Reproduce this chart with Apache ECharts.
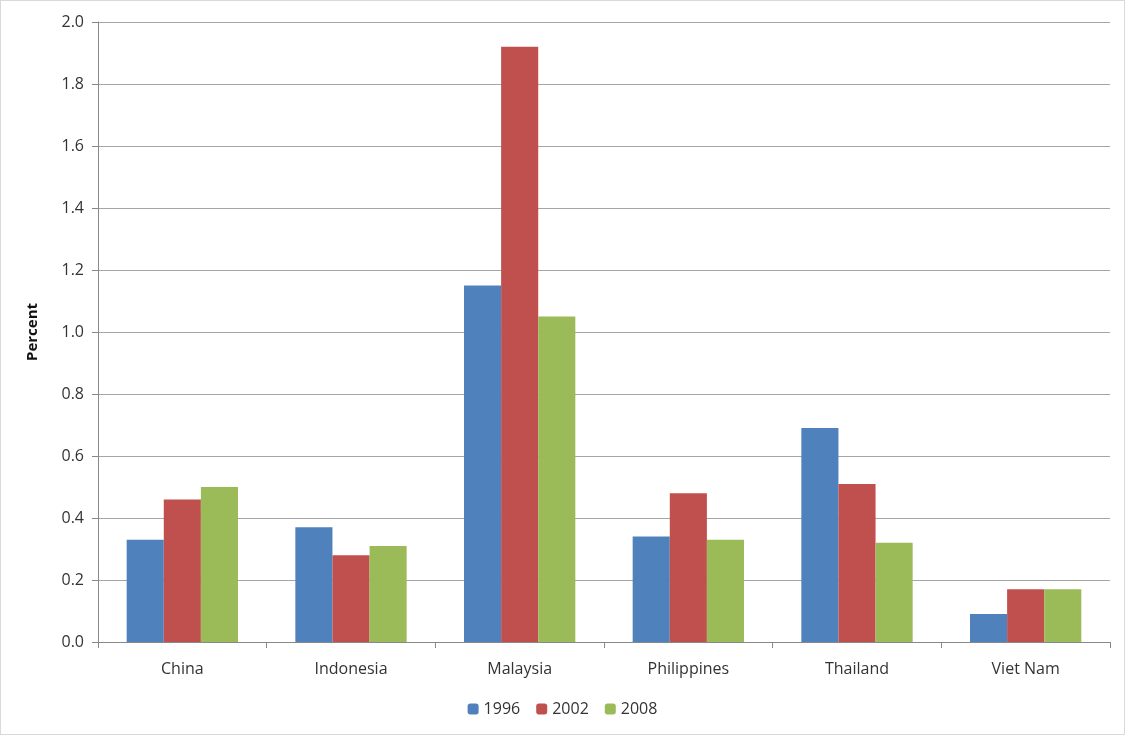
<!DOCTYPE html>
<html>
<head>
<meta charset="utf-8">
<script src="https://cdn.jsdelivr.net/npm/echarts@6/dist/echarts.min.js"></script>
<style>
html,body{margin:0;padding:0;background:#fff;}
#chart{width:1123px;height:733px;border:1px solid #d9d9d9;}
</style>
</head>
<body>
<div id="chart"></div>
<script>
var categories = ['China', 'Indonesia', 'Malaysia', 'Philippines', 'Thailand', 'Viet Nam'];
var s1996 = [0.33, 0.37, 1.15, 0.34, 0.69, 0.09];
var s2002 = [0.46, 0.28, 1.92, 0.48, 0.51, 0.17];
var s2008 = [0.50, 0.31, 1.05, 0.33, 0.32, 0.17];

var chart = echarts.init(document.getElementById('chart'));
var font = '"Open Sans", "Liberation Sans", sans-serif';
chart.setOption({
    animation: false,
    textStyle: {fontFamily: font},
    grid: {left: 97, right: 14, top: 21, bottom: 92},
    legend: {
        bottom: 12, left: 'center', itemWidth: 11, itemHeight: 11, itemGap: 16,
        textStyle: {fontSize: 16, color: '#333', fontFamily: font},
        data: ['1996', '2002', '2008']
    },
    xAxis: {
        type: 'category', data: categories,
        axisLine: {lineStyle: {color: '#888'}},
        axisTick: {show: true, alignWithLabel: false, length: 6, lineStyle: {color: '#888'}},
        axisLabel: {fontSize: 16, color: '#333', margin: 19, fontFamily: font}
    },
    yAxis: {
        type: 'value', min: 0, max: 2.0, interval: 0.2,
        name: 'Percent', nameLocation: 'middle', nameGap: 58,
        nameTextStyle: {fontSize: 15, fontWeight: 'bold', color: '#111', fontFamily: font},
        axisLine: {show: true, lineStyle: {color: '#888'}},
        axisTick: {show: true, length: 6, lineStyle: {color: '#888'}},
        axisLabel: {fontSize: 16, color: '#333', margin: 14, fontFamily: font,
            formatter: function (v) { return v.toFixed(1); }},
        splitLine: {lineStyle: {color: '#a6a6a6'}}
    },
    series: [
        {name: '1996', type: 'bar', data: s1996, barGap: '0%', barCategoryGap: '34%', itemStyle: {color: '#4F81BD'}},
        {name: '2002', type: 'bar', data: s2002, barGap: '0%', barCategoryGap: '34%', itemStyle: {color: '#C0504D'}},
        {name: '2008', type: 'bar', data: s2008, barGap: '0%', barCategoryGap: '34%', itemStyle: {color: '#9BBB59'}}
    ]
});
</script>
</body>
</html>
